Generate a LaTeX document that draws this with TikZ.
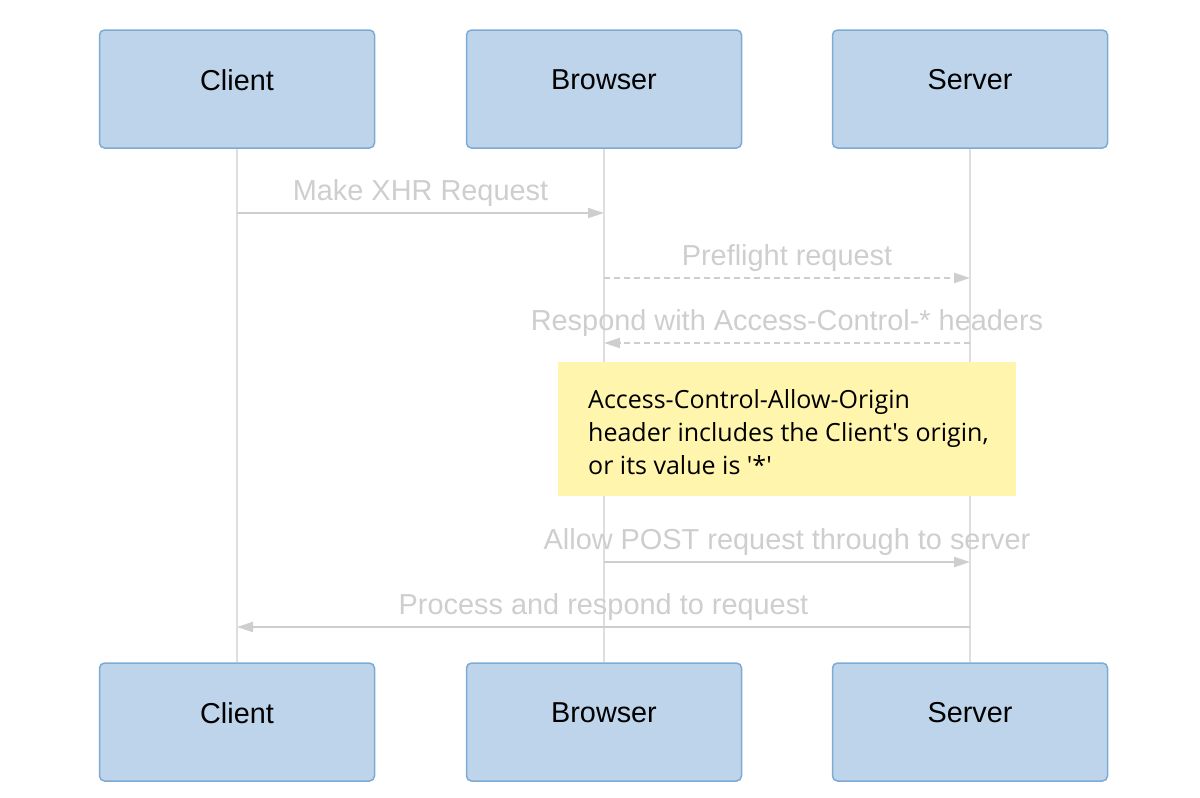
\documentclass[tikz,border=0pt]{standalone}
\usepackage{fontspec}
\usepackage{tikz}
\usepackage{xcolor}
\usetikzlibrary{arrows.meta}
\setmainfont{Liberation Sans}
\newfontfamily\notefont{Open Sans}

\definecolor{actorfill}{RGB}{189,212,234}
\definecolor{actorline}{RGB}{126,170,214}
\definecolor{msggray}{RGB}{206,206,206}
\definecolor{lifegray}{RGB}{222,222,222}
\definecolor{notefill}{RGB}{255,245,173}

\begin{document}
\begin{tikzpicture}[x=1pt, y=-1pt]
    % Styles
    \tikzstyle{actor} = [rectangle, draw=actorline, line width=1.5pt, fill=actorfill, rounded corners=5pt, minimum width=275pt, minimum height=118pt, inner sep=0pt]
    \tikzstyle{actorlabel} = [font=\fontsize{28.8}{30}\selectfont, text=black]
    \tikzstyle{lifeline} = [draw=lifegray, line width=1.5pt]
    \tikzstyle{arrow} = [draw=msggray, line width=2pt, -{Triangle[length=16pt, width=10pt]}]
    \tikzstyle{dasharrow} = [arrow, dash pattern=on 6pt off 4pt]
    \tikzstyle{msg} = [midway, anchor=base, yshift=13pt, text=msggray, font=\fontsize{28.9}{30}\selectfont, inner sep=0pt]
    \tikzstyle{note} = [rectangle, fill=notefill, minimum width=458pt, minimum height=134pt, anchor=north west, inner sep=0pt]
    \tikzstyle{notetext} = [font=\notefont\fontsize{25}{33}\selectfont, align=left, anchor=west, inner sep=0pt]

    \useasboundingbox (0,0) rectangle (1200,798);

    % Nodes
    \node [actor, label={[actorlabel, yshift=9pt]center:Client}] (clientTop) at (237,89) {};
    \node [actor, label={[actorlabel, yshift=9pt]center:Browser}] (browserTop) at (604,89) {};
    \node [actor, label={[actorlabel, yshift=9pt]center:Server}] (serverTop) at (970,89) {};
    \node [actor, label={[actorlabel, yshift=9pt]center:Client}] (clientBot) at (237,722) {};
    \node [actor, label={[actorlabel, yshift=9pt]center:Browser}] (browserBot) at (604,722) {};
    \node [actor, label={[actorlabel, yshift=9pt]center:Server}] (serverBot) at (970,722) {};

    % Lifelines
    \draw [lifeline] (clientTop.south) -- (clientBot.north);
    \draw [lifeline] (browserTop.south) -- (browserBot.north);
    \draw [lifeline] (serverTop.south) -- (serverBot.north);

    % Points on the lifelines
    \coordinate (xhrC) at (237,213);
    \coordinate (xhrB) at (604,213);
    \coordinate (preB) at (604,278);
    \coordinate (preS) at (970,278);
    \coordinate (respS) at (970,343);
    \coordinate (respB) at (604,343);
    \coordinate (postB) at (604,562);
    \coordinate (postS) at (970,562);
    \coordinate (procS) at (970,627);
    \coordinate (procC) at (237,627);

    % Note
    \node [note] (origin) at (558,362) {};
    \node [notetext] (originText) at ([xshift=30pt, yshift=-3pt]origin.west) {Access-Control-Allow-Origin\\header includes the Client's origin,\\or its value is '*'};

    % Arrows
    \draw [arrow] (xhrC) -- (xhrB) node [msg] {Make XHR Request};
    \draw [dasharrow] (preB) -- (preS) node [msg] {Preflight request};
    \draw [dasharrow] (respS) -- (respB) node [msg] {Respond with Access-Control-* headers};
    \draw [arrow] (postB) -- (postS) node [msg] {Allow POST request through to server};
    \draw [arrow] (procS) -- (procC) node [msg] {Process and respond to request};
\end{tikzpicture}
\end{document}
